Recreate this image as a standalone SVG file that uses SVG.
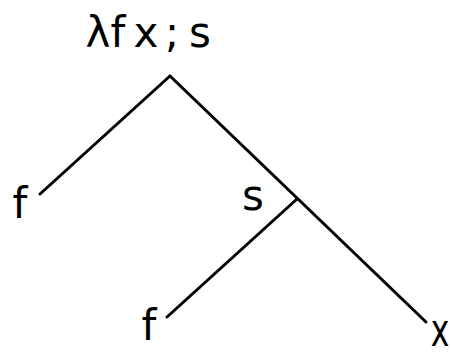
<svg xmlns="http://www.w3.org/2000/svg" width="451" height="356" viewBox="0 0 451 356">
<style>
.t{font-family:"DejaVu Sans","Liberation Sans",sans-serif;font-size:42px;fill:#000;text-anchor:middle}
.e{stroke:#000;stroke-width:3;fill:none;stroke-linecap:round}
</style>
<rect width="451" height="356" fill="#fff"/>
<g id="connectors">
<line class="e" x1="170" y1="76" x2="40" y2="194"/>
<line class="e" x1="170" y1="76" x2="426" y2="322"/>
<line class="e" x1="297" y1="199" x2="167" y2="317"/>
</g>
<g id="root"><text class="t" x="98 118 146 172 200" y="47">λfx;s</text></g>
<g id="f1"><text class="t" x="20" y="218">f</text></g>
<g id="s"><text class="t" x="253" y="210">s</text></g>
<g id="f2"><text class="t" x="149" y="340">f</text></g>
<g id="x"><text class="t" transform="translate(440,346) scale(0.75,1.1)" x="0" y="0">x</text></g>
</svg>
